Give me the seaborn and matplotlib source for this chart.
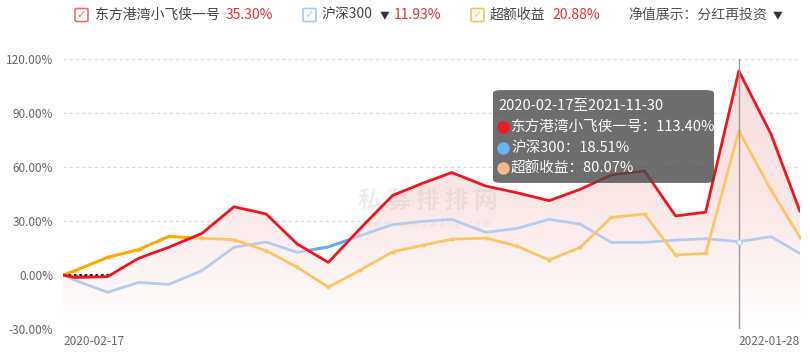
import numpy as np
import pandas as pd
import matplotlib
matplotlib.use("Agg")
import matplotlib.pyplot as plt
import matplotlib.dates as mdates
from matplotlib.colors import LinearSegmentedColormap
from matplotlib.patches import FancyBboxPatch, PathPatch
from matplotlib.ticker import FuncFormatter
import seaborn as sns

# ---- data (cumulative return, %) ----
dates = ["2020-02-17", "2020-02-28", "2020-03-31", "2020-04-30", "2020-05-29",
         "2020-06-30", "2020-07-31", "2020-08-31", "2020-09-30", "2020-10-30",
         "2020-11-30", "2020-12-31", "2021-01-29", "2021-02-26", "2021-03-31",
         "2021-04-30", "2021-05-31", "2021-06-30", "2021-07-30", "2021-08-31",
         "2021-09-30", "2021-10-29", "2021-11-30", "2021-12-31", "2022-01-28"]
fund = [0, -1.4, -0.9, 9.3, 15.4, 23.1, 37.9, 33.9, 17.2, 7.0,
        26.0, 44.2, 51.0, 56.9, 49.4, 45.7, 41.3, 47.6, 55.6, 57.8,
        32.8, 34.9, 113.40, 78.3, 35.30]
hs300 = [0, -2.8, -9.6, -4.1, -5.2, 2.4, 15.4, 18.3, 12.6, 15.6,
         21.9, 28.0, 29.8, 30.9, 23.7, 25.9, 30.9, 28.3, 18.1, 18.1,
         19.4, 20.2, 18.51, 21.3, 11.93]
excess = [0, 2.3, 9.8, 14.1, 21.4, 20.4, 19.6, 13.5, 4.3, -6.8,
          2.8, 12.9, 16.5, 19.9, 20.5, 16.1, 8.3, 15.4, 32.0, 33.9,
          11.1, 12.0, 80.07, 47.2, 20.88]
series_names = ["东方港湾小飞侠一号", "沪深300", "超额收益"]
yticks = [-30, 0, 30, 60, 90, 120]
hover_idx = 22

RED = "#f0141e"
BLUE_LIGHT = "#b7cbee"
BLUE_DARK = "#62aaf7"
ORANGE_LIGHT = "#fdc663"
ORANGE_DARK = "#ffa800"

sns.set_style("white")
plt.rcParams['font.family'] = ['Noto Sans CJK SC', 'DejaVu Sans']

df = pd.DataFrame({"date": pd.to_datetime(dates), "fund": fund,
                   "hs300": hs300, "excess": excess})
xnum = mdates.date2num(df["date"])


def above_parts(xs, a, b):
    """Insert crossing points and mask where a is below b."""
    px, pa, pb = [xs[0]], [a[0]], [b[0]]
    for i in range(len(xs) - 1):
        d0, d1 = a[i] - b[i], a[i + 1] - b[i + 1]
        if d0 * d1 < 0:
            t = d0 / (d0 - d1)
            px.append(xs[i] + t * (xs[i + 1] - xs[i]))
            pa.append(a[i] + t * (a[i + 1] - a[i]))
            pb.append(b[i] + t * (b[i + 1] - b[i]))
        px.append(xs[i + 1]); pa.append(a[i + 1]); pb.append(b[i + 1])
    px, pa, pb = map(np.array, (px, pa, pb))
    return px, np.where(pa >= pb - 1e-9, pa, np.nan)


fig = plt.figure(figsize=(8.1, 3.54), dpi=100)
ax = fig.add_axes([63 / 810, 25 / 354, 737 / 810, 270 / 354])

# grid
for v in yticks:
    ax.axhline(v, color="#8a8a8a" if v == 0 else "#d9d9d9", lw=0.9,
               ls=(0, (2.5, 2.5)), zorder=0.5)

# gradient area under fund line
cmap = LinearSegmentedColormap.from_list("pk", ["#ffffff", "#fbe6e6", "#f9dede"])
grad = np.linspace(0, 1, 256).reshape(-1, 1)
im = ax.imshow(grad, extent=[xnum[0], xnum[-1], -30, 120], origin="lower",
               aspect="auto", cmap=cmap, zorder=1)
poly = ax.fill_between(df["date"], df["fund"], -30, color="none", lw=0)
clip = PathPatch(poly.get_paths()[0], transform=ax.transData,
                 facecolor="none", edgecolor="none")
ax.add_patch(clip)
im.set_clip_path(clip)

# watermark
ax.text(0.495, 0.475, "私 募 排 排 网", transform=ax.transAxes, ha="center",
        va="center", fontsize=17, fontweight="bold", color="#b0b0b0",
        alpha=0.22, zorder=2)
ax.text(0.495, 0.39, "w w w . s i m u w a n g . c o m", transform=ax.transAxes,
        ha="center", va="center", fontsize=7, color="#b0b0b0", alpha=0.22,
        zorder=2)

# lines
sns.lineplot(data=df, x="date", y="hs300", ax=ax, color=BLUE_LIGHT, lw=2, zorder=3)
sns.lineplot(data=df, x="date", y="excess", ax=ax, color=ORANGE_LIGHT, lw=2,
             marker="o", markersize=3, markeredgewidth=0, zorder=3)
sns.lineplot(data=df, x="date", y="fund", ax=ax, color=RED, lw=2, zorder=4)

# highlighted parts
bx, by = above_parts(xnum, hs300, fund)
ax.plot(bx, by, color=BLUE_DARK, lw=2, zorder=3.5)
ox, oy = above_parts(xnum, excess, fund)
ax.plot(ox, oy, color=ORANGE_DARK, lw=2, zorder=3.5)
zx, zy = above_parts(xnum, np.zeros(len(fund)), fund)
ax.plot(zx, zy, color="#111111", lw=1.3, ls=(0, (1.5, 1.5)), zorder=3.6)

# hover crosshair
ax.axvline(xnum[hover_idx], color="#9a9a9a", lw=1, zorder=4.5)
ax.plot(xnum[hover_idx], hs300[hover_idx], "o", ms=4, mfc="white",
        mec=BLUE_LIGHT, mew=1, zorder=4.6)

# axes formatting
ax.set_xlim(xnum[0], xnum[-1])
ax.set_ylim(-30, 120)
ax.set_yticks(yticks)
ax.yaxis.set_major_formatter(FuncFormatter(lambda v, p: f"{v:.2f}%"))
ax.set_xticks([xnum[0], xnum[-1]])
ax.set_xticklabels([dates[0], dates[-1]])
labs = ax.get_xticklabels()
labs[0].set_ha("left")
labs[1].set_ha("right")
ax.tick_params(axis="both", length=0, labelsize=8.5, labelcolor="#666666")
ax.tick_params(axis="y", pad=7)
ax.tick_params(axis="x", pad=4)
ax.set_xlabel("")
ax.set_ylabel("")
for s in ax.spines.values():
    s.set_visible(False)

# tooltip
box = FancyBboxPatch((0.5834, 0.541), 0.30, 0.344, transform=ax.transAxes,
                     boxstyle="round,pad=0,rounding_size=0.012",
                     facecolor="#4a4a4a", alpha=0.8, edgecolor="none", zorder=6)
ax.add_patch(box)
ax.text(0.5915, 0.826, f"{dates[0]}至{dates[hover_idx]}", transform=ax.transAxes,
        color="white", fontsize=10.5, va="center", zorder=7)
tip_vals = [fund[hover_idx], hs300[hover_idx], excess[hover_idx]]
tip_cols = ["#f5162b", "#6cb2f7", "#f2b98a"]
for k, (nm, v, c) in enumerate(zip(series_names, tip_vals, tip_cols)):
    yy = 0.748 - k * 0.076
    ax.plot([0.5975], [yy], "o", ms=8, color=c, transform=ax.transAxes,
            zorder=7, clip_on=False)
    ax.text(0.608, yy, f"{nm}：{v:.2f}%", transform=ax.transAxes,
            color="white", fontsize=10.5, va="center", zorder=7)

# top legend
W, H = 810, 354
ly = 1 - 15 / H
finals = [fund[-1], hs300[-1], excess[-1]]
chk_cols = ["#f26b6b", "#a3c9f3", "#fcc44e"]
chk_x = [75, 303, 471]
name_x = [95, 321, 490]
val_x = [226, 394, 552]
for k in range(3):
    fig.patches.append(FancyBboxPatch(
        (chk_x[k] / W, ly - 6.5 / H), 13 / W, 13 / H,
        transform=fig.transFigure, boxstyle="round,pad=0,rounding_size=0.003",
        facecolor="white", edgecolor=chk_cols[k], lw=1.2))
    fig.text((chk_x[k] + 6.5) / W, ly, "✓", color=chk_cols[k], fontsize=8,
             ha="center", va="center", family=["DejaVu Sans"])
    fig.text(name_x[k] / W, ly, series_names[k], color="#444444",
             fontsize=10, va="center")
    fig.text(val_x[k] / W, ly, f"{finals[k]:.2f}%", color="#e8312f",
             fontsize=10, va="center")
fig.text(380 / W, ly, "▼", color="#333333", fontsize=7, va="center")
fig.text(628 / W, ly, "净值展示：分红再投资", color="#555555", fontsize=10,
         va="center")
fig.text(773 / W, ly, "▼", color="#333333", fontsize=7, va="center")

fig.savefig("out.png", dpi=100)
